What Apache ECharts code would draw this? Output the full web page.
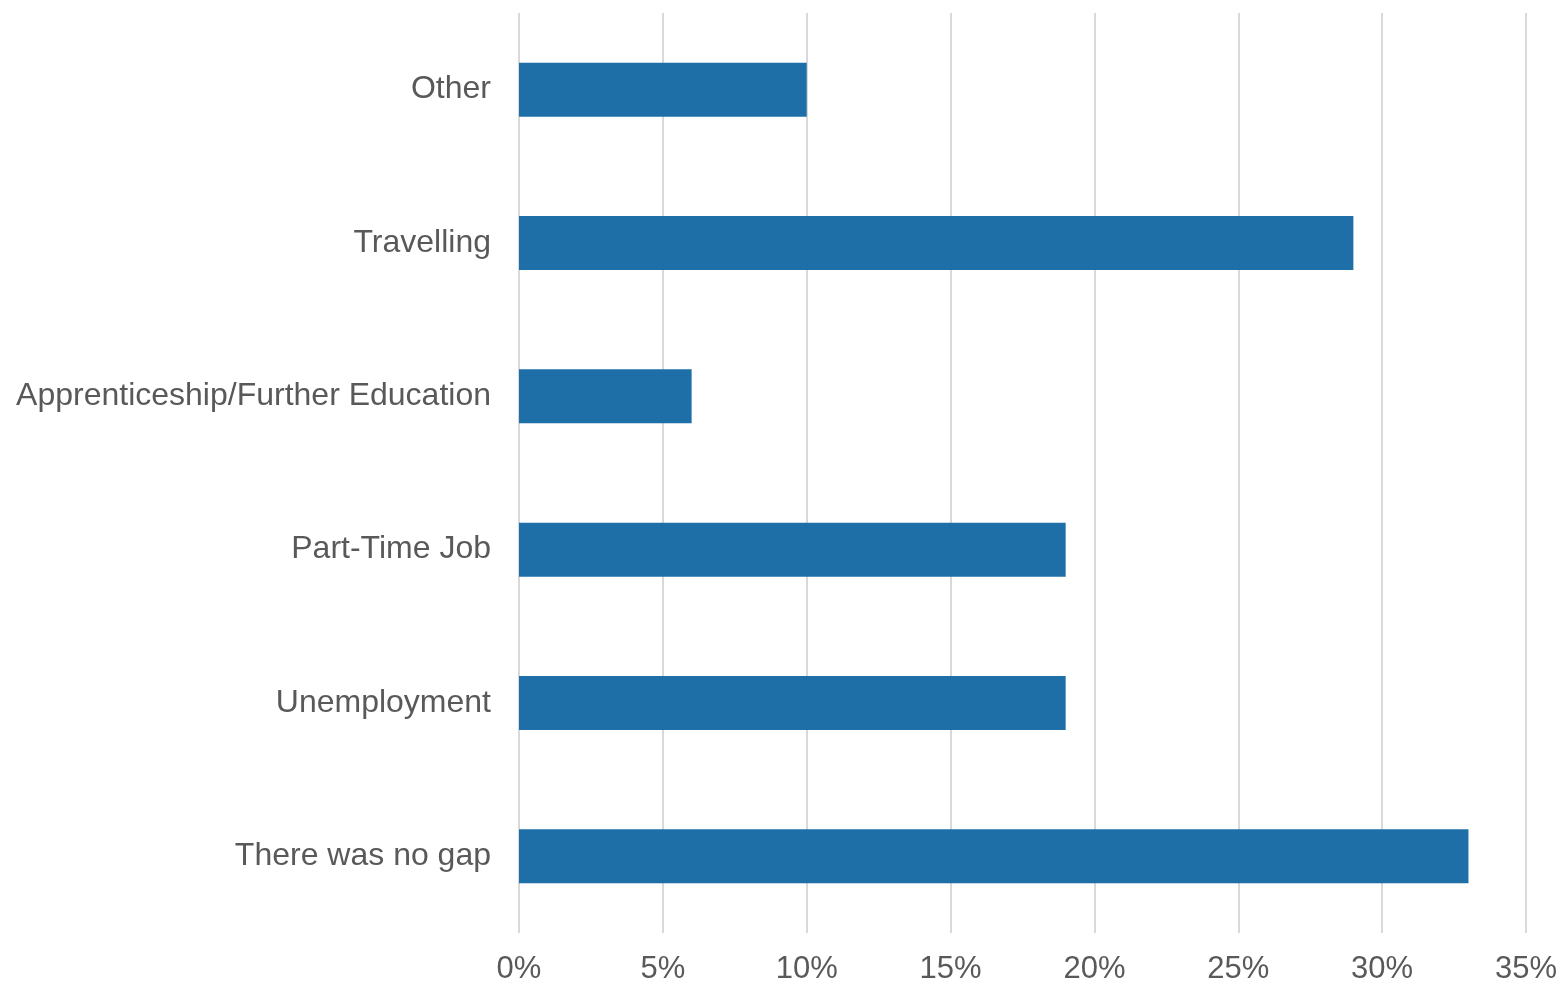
<!DOCTYPE html>
<html>
<head>
<meta charset="utf-8">
<script src="https://cdn.jsdelivr.net/npm/echarts@6/dist/echarts.min.js"></script>
<style>
  html, body { margin: 0; padding: 0; background: #fff; }
  #chart { width: 1563px; height: 986px; }
</style>
</head>
<body>
<div id="chart"></div>
<script>
// Reasons for the gap, listed bottom to top
const categories = ['There was no gap', 'Unemployment', 'Part-Time Job', 'Apprenticeship/Further Education', 'Travelling', 'Other'];
const shares = [33, 19, 19, 6, 29, 10];
const tickStep = 5;
const axisMax = 35;

const chart = echarts.init(document.getElementById('chart'));
chart.setOption({
  animation: false,
  grid: { left: 519, right: 37, top: 13, bottom: 53, containLabel: false },
  xAxis: {
    type: 'value',
    min: 0,
    max: axisMax,
    interval: tickStep,
    axisLine: { show: false },
    axisTick: { show: false },
    splitLine: { show: true, lineStyle: { color: '#d9d9d9', width: 2 } },
    axisLabel: {
      formatter: '{value}%',
      color: '#595959',
      fontFamily: 'Liberation Sans, Arial, sans-serif',
      fontSize: 31,
      margin: 21
    }
  },
  yAxis: {
    type: 'category',
    data: categories,
    axisLine: { show: false },
    axisTick: { show: false },
    axisLabel: {
      color: '#595959',
      fontFamily: 'Liberation Sans, Arial, sans-serif',
      fontSize: 32,
      margin: 28,
      padding: [6, 0, 0, 0]
    }
  },
  series: [{
    type: 'bar',
    data: shares,
    barWidth: 54,
    itemStyle: { color: '#1E6FA8' }
  }]
});
</script>
</body>
</html>
